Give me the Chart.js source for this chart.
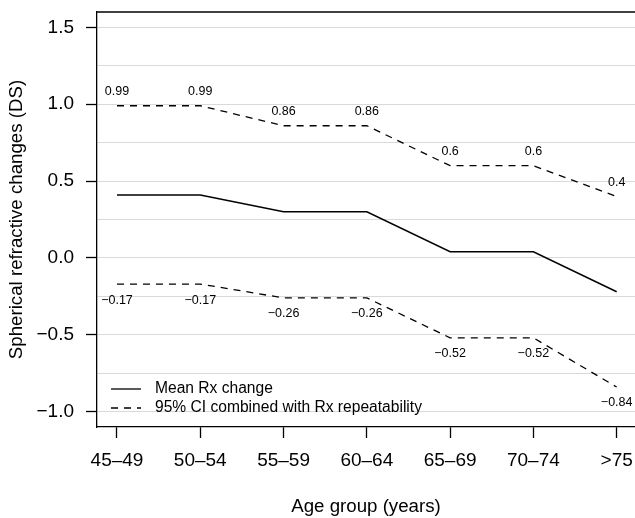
<!DOCTYPE html>
<html>
<head>
<meta charset="utf-8">
<script src="https://cdn.jsdelivr.net/npm/chart.js@4"></script>
<style>
  html, body { margin: 0; padding: 0; background: #fff; overflow: hidden; }
  #wrap { width: 635px; height: 518px; }
</style>
</head>
<body>
<div id="wrap"><canvas id="myChart"></canvas></div>
<script>
const ageGroups = ['45\u201349', '50\u201354', '55\u201359', '60\u201364', '65\u201369', '70\u201374', '>75'];
const meanChange = [0.41, 0.41, 0.30, 0.30, 0.04, 0.04, -0.22];
const upperCI = [0.99, 0.99, 0.86, 0.86, 0.6, 0.6, 0.4];
const lowerCI = [-0.17, -0.17, -0.26, -0.26, -0.52, -0.52, -0.84];
const yTicks = [-1.0, -0.75, -0.5, -0.25, 0, 0.25, 0.5, 0.75, 1.0, 1.25, 1.5];

const FONT = "'Liberation Sans', Arial, Helvetica, sans-serif";

function fmt(v) {
    // R style minus sign
    return (v < 0 ? '\u2212' : '') + Math.abs(v);
}

function pts(arr) {
    return arr.map((v, i) => ({x: i, y: v}));
}

// top border of the plot box + value labels + legend inside the plot
const extras = {
    id: 'extras',
    afterDatasetsDraw(chart) {
        const c = chart.ctx;
        const area = chart.chartArea;
        c.save();
        c.strokeStyle = '#000';
        c.lineWidth = 1.3;
        c.beginPath();
        c.moveTo(area.left, area.top);
        c.lineTo(area.right, area.top);
        c.stroke();

        c.fillStyle = '#000';
        c.font = '12.5px ' + FONT;
        c.textAlign = 'center';
        c.textBaseline = 'middle';
        const xs = chart.scales.x, ys = chart.scales.y;
        upperCI.forEach((v, i) => {
            c.fillText(fmt(v), xs.getPixelForValue(i), ys.getPixelForValue(v) - 14);
        });
        lowerCI.forEach((v, i) => {
            c.fillText(fmt(v), xs.getPixelForValue(i), ys.getPixelForValue(v) + 16);
        });

        // legend
        const items = [chart.data.datasets[0], chart.data.datasets[1]];
        c.font = '15.6px ' + FONT;
        c.textAlign = 'left';
        items.forEach((ds, k) => {
            const y = 389 + k * 19;
            c.beginPath();
            c.setLineDash(ds.borderDash || []);
            c.lineWidth = 1.3;
            c.moveTo(111, y);
            c.lineTo(141, y);
            c.stroke();
            c.setLineDash([]);
            c.fillText(ds.label, 155, y);
        });
        c.restore();
    }
};

const ctx = document.getElementById('myChart');

new Chart(ctx, {
    type: 'line',
    data: {
        datasets: [{
            label: 'Mean Rx change',
            data: pts(meanChange),
            borderColor: '#000',
            borderWidth: 1.5,
            pointRadius: 0
        },
        {
            label: '95% CI combined with Rx repeatability',
            data: pts(upperCI),
            borderColor: '#000',
            borderWidth: 1.3,
            borderDash: [7, 6],
            pointRadius: 0
        },
        {
            label: 'lower',
            data: pts(lowerCI),
            borderColor: '#000',
            borderWidth: 1.3,
            borderDash: [7, 6],
            pointRadius: 0
        }]
    },
    plugins: [extras],
    options: {
        responsive: true,
        maintainAspectRatio: false,
        animation: false,
        layout: { padding: { top: 12, right: 0, left: 0, bottom: 0 } },
        plugins: {
            legend: { display: false },
            tooltip: { enabled: false }
        },
        scales: {
            x: {
                type: 'linear',
                min: -0.24,
                max: 6.22,
                afterBuildTicks: (scale) => {
                    scale.ticks = ageGroups.map((_, i) => ({value: i}));
                },
                afterFit: (scale) => {
                    scale.height = 91;
                    scale.paddingLeft = 0;
                    scale.paddingRight = 0;
                },
                ticks: {
                    color: '#000',
                    padding: 11,
                    maxRotation: 0,
                    font: { family: FONT, size: 19 },
                    callback: (value) => ageGroups[value]
                },
                grid: {
                    drawOnChartArea: false,
                    tickLength: 11,
                    tickColor: '#000',
                    tickWidth: 1.3
                },
                border: { color: '#000', width: 1.3 },
                title: {
                    display: true,
                    text: 'Age group (years)',
                    color: '#000',
                    font: { family: FONT, size: 18.7 },
                    padding: { top: 0, bottom: 0 }
                }
            },
            y: {
                min: -1.1,
                max: 1.6,
                afterBuildTicks: (scale) => {
                    scale.ticks = yTicks.map(v => ({value: v}));
                },
                afterFit: (scale) => {
                    scale.width = 97;
                    scale.paddingTop = 0;
                    scale.paddingBottom = 0;
                },
                ticks: {
                    color: '#000',
                    padding: 12,
                    font: { family: FONT, size: 19 },
                    callback: (value) => {
                        if (Math.abs(value * 2 - Math.round(value * 2)) > 1e-6) return '';
                        return (value < 0 ? '\u2212' : '') + Math.abs(value).toFixed(1);
                    }
                },
                grid: {
                    color: '#d9d9d9',
                    lineWidth: 1,
                    tickLength: 11,
                    tickWidth: 1.3,
                    tickColor: (c) => {
                        const v = c.tick ? c.tick.value : 0;
                        return Math.abs(v * 2 - Math.round(v * 2)) > 1e-6 ? 'rgba(0,0,0,0)' : '#000';
                    }
                },
                border: { color: '#000', width: 1.3 },
                title: {
                    display: true,
                    text: 'Spherical refractive changes (DS)',
                    color: '#000',
                    font: { family: FONT, size: 18.7 },
                    padding: { top: 6, bottom: 0 }
                }
            }
        }
    }
});
</script>
</body>
</html>
